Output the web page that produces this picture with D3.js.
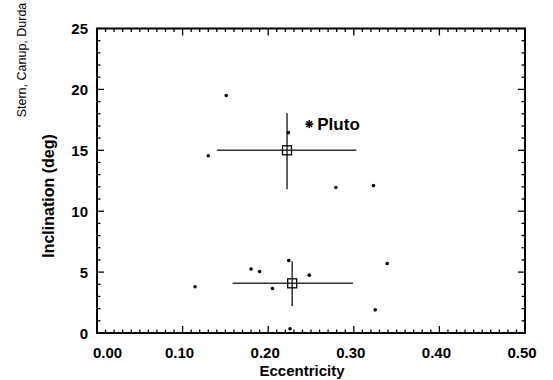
<!DOCTYPE html>
<html><head><meta charset="utf-8">
<script src="https://cdn.jsdelivr.net/npm/d3@7"></script>
<style>body{margin:0;background:#fff}svg{display:block}text{font-family:"Liberation Sans",Arial,sans-serif;fill:#000}</style>
</head><body>
<svg id="c" width="553" height="380"></svg>
<script>
// Data (eccentricity, inclination in deg)
const eccentricity = [0.151, 0.2235, 0.130, 0.279, 0.323, 0.1145, 0.180, 0.190, 0.205, 0.224, 0.248, 0.339, 0.325, 0.2255];
const inclination  = [19.5, 16.45, 14.55, 11.95, 12.1, 3.8, 5.25, 5.05, 3.65, 5.95, 4.75, 5.7, 1.9, 0.35];
const plutoE = [0.248], plutoI = [17.15];
const meanE = [0.222, 0.228], meanI = [15.0, 4.08];
const errELo = [0.140, 0.1585], errEHi = [0.303, 0.299];
const errILo = [11.8, 2.22], errIHi = [18.05, 5.9];
const xTicks = [0, 0.1, 0.2, 0.3, 0.4, 0.5];
const yTicks = [0, 5, 10, 15, 20, 25];

const svg = d3.select("#c");
const L = 97, R = 525, T = 28.5, B = 333;
const x = d3.scaleLinear().domain([0, 0.5]).range([L, R]);
const y = d3.scaleLinear().domain([0, 25]).range([B, T]);

// minor + major ticks, inward on all four sides
const g = svg.append("g").attr("stroke", "#000");
d3.range(0, 0.5001, 0.01).forEach((v, i) => {
  const len = (i % 10 === 0) ? 7 : 3.5;
  g.append("line").attr("x1", x(v)).attr("x2", x(v)).attr("y1", B).attr("y2", B - len).attr("stroke-width", 1.3);
  g.append("line").attr("x1", x(v)).attr("x2", x(v)).attr("y1", T).attr("y2", T + len).attr("stroke-width", 1.3);
});
d3.range(0, 25.001, 1).forEach((v, i) => {
  const len = (i % 5 === 0) ? 7 : 3.5;
  g.append("line").attr("y1", y(v)).attr("y2", y(v)).attr("x1", L).attr("x2", L + len).attr("stroke-width", 1.3);
  g.append("line").attr("y1", y(v)).attr("y2", y(v)).attr("x1", R).attr("x2", R - len).attr("stroke-width", 1.3);
});
svg.append("rect").attr("x", L).attr("y", T).attr("width", R - L).attr("height", B - T)
  .attr("fill", "none").attr("stroke", "#000").attr("stroke-width", 2);

// tick labels
svg.append("g").selectAll("text").data(xTicks).join("text")
  .attr("x", (d, i) => i === 0 ? x(d) - 4 : x(d) - 3)
  .attr("text-anchor", (d, i) => i === 0 ? "start" : "middle")
  .attr("y", 358)
  .attr("font-size", 15).attr("font-weight", "bold").text(d => d.toFixed(2));
svg.append("g").selectAll("text").data(yTicks).join("text")
  .attr("x", 88).attr("y", d => y(d) + 5.5).attr("text-anchor", "end")
  .attr("font-size", 15).attr("font-weight", "bold").text(d => d);

// axis titles
svg.append("text").attr("x", (L + R) / 2 - 9).attr("y", 376).attr("text-anchor", "middle")
  .attr("font-size", 15).attr("font-weight", "bold").text("Eccentricity");
svg.append("text").attr("transform", "translate(54,196) rotate(-90)").attr("text-anchor", "middle")
  .attr("font-size", 16).attr("font-weight", "bold").text("Inclination (deg)");
svg.append("text").attr("transform", "translate(26,60) rotate(-90)").attr("text-anchor", "middle")
  .attr("font-size", 12.5).text("Stern, Canup, Durda");

// error bars
const eb = svg.append("g");
meanE.forEach((m, i) => {
  eb.append("line").attr("x1", x(errELo[i])).attr("x2", x(errEHi[i])).attr("y1", y(meanI[i])).attr("y2", y(meanI[i]))
    .attr("stroke", "#333").attr("stroke-width", 1.4);
  eb.append("line").attr("x1", x(m)).attr("x2", x(m)).attr("y1", y(errILo[i])).attr("y2", y(errIHi[i]))
    .attr("stroke", "#111").attr("stroke-width", 1.3);
  eb.append("rect").attr("x", x(m) - 4.5).attr("y", y(meanI[i]) - 4.5).attr("width", 9).attr("height", 9)
    .attr("fill", "none").attr("stroke", "#000").attr("stroke-width", 1.3);
});

// points
svg.append("g").selectAll("circle").data(eccentricity).join("circle")
  .attr("cx", d => x(d)).attr("cy", (d, i) => y(inclination[i])).attr("r", 1.8).attr("fill", "#000");

// Pluto
const px = x(plutoE[0]), py = y(plutoI[0]);
const star = svg.append("g").attr("stroke", "#000").attr("stroke-width", 1.6);
[0, 45, 90, 135].forEach(a => {
  const r = 4, t = a * Math.PI / 180;
  star.append("line").attr("x1", px - r * Math.cos(t)).attr("y1", py - r * Math.sin(t))
    .attr("x2", px + r * Math.cos(t)).attr("y2", py + r * Math.sin(t));
});
svg.append("text").attr("x", px + 8).attr("y", py + 6).attr("font-size", 17).attr("font-weight", "bold").text("Pluto");
</script>
</body></html>
